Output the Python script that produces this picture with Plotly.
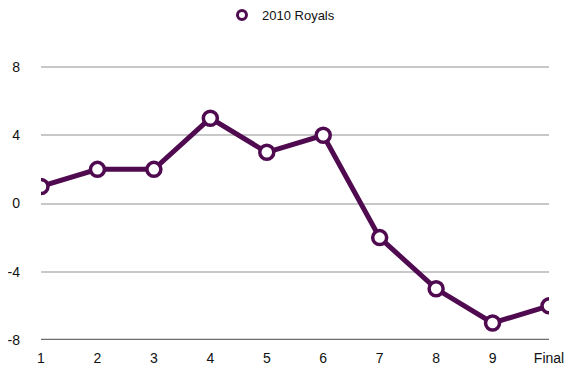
import plotly.graph_objects as go

categories = ["1", "2", "3", "4", "5", "6", "7", "8", "9", "Final"]
royals_2010 = [1, 2, 2, 5, 3, 4, -2, -5, -7, -6]
y_ticks = [-8, -4, 0, 4, 8]
y_tick_labels = ["-8", "-4", "0", "4", "8"]
series_name = "2010 Royals"

purple = "#4f0a50"

fig = go.Figure()
fig.add_trace(go.Scatter(
    x=categories, y=royals_2010, mode="lines+markers", showlegend=False,
    line=dict(color=purple, width=5),
    marker=dict(size=14, color="white", line=dict(color=purple, width=3.5)),
))
fig.add_trace(go.Scatter(
    x=[None], y=[None], mode="markers", name=series_name,
    marker=dict(size=9, color="white", line=dict(color=purple, width=3)),
))

fig.update_layout(
    width=564, height=370,
    margin=dict(l=33, r=23, t=54, b=38, autoexpand=False),
    plot_bgcolor="white", paper_bgcolor="white",
    font=dict(family="Liberation Sans, Arial, sans-serif", size=14, color="#111"),
    showlegend=True,
    legend=dict(orientation="h", x=0.484, xanchor="center", xref="container",
                y=1.169, yanchor="middle", yref="paper",
                font=dict(size=13, color="#111"), itemwidth=30),
    xaxis=dict(type="category", categoryorder="array", categoryarray=categories,
               range=[0, 9], showgrid=False, zeroline=False, automargin=False,
               showline=False, ticks="", ticklabelstandoff=8),
    yaxis=dict(range=[-8, 8.293], tickvals=y_ticks, ticktext=y_tick_labels,
               showgrid=True, automargin=False,
               gridcolor="#c8c8c8", gridwidth=1.5, zeroline=False,
               showline=False, ticks="", ticklabelstandoff=20),
)
fig.add_shape(type="line", xref="paper", yref="y", x0=0, x1=1, y0=-8, y1=-8,
              line=dict(color="#6e6e6e", width=2.5), layer="below")
fig.write_html("out.html")
